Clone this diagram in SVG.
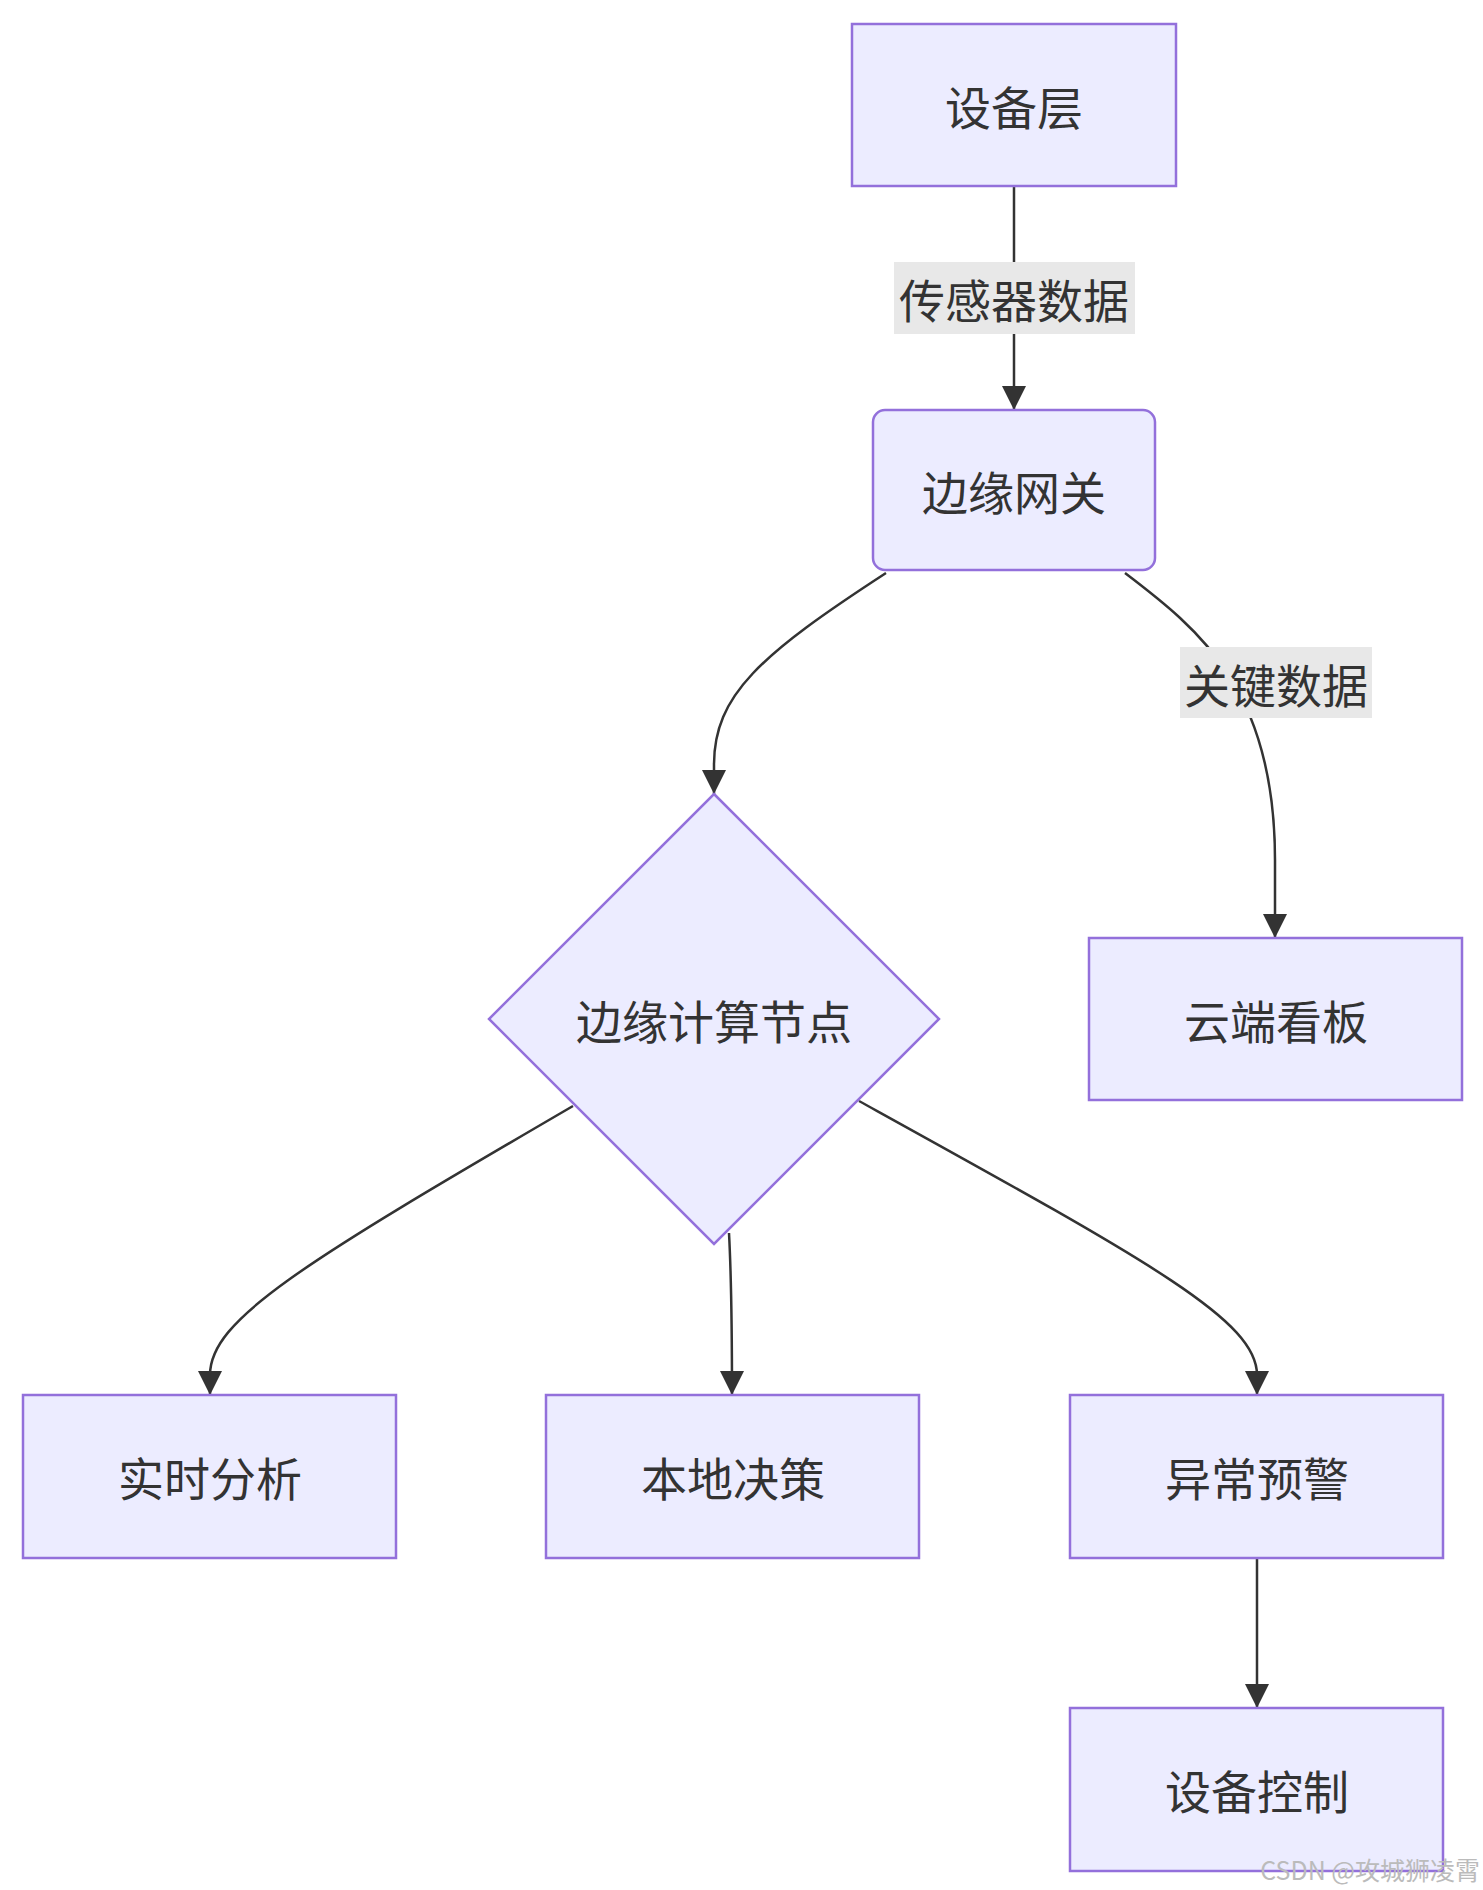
<svg xmlns="http://www.w3.org/2000/svg" width="1483" height="1890" viewBox="0 0 1483 1890">
<style>
.n{fill:#ECECFF;stroke:#9370DB;stroke-width:2.5}
.t{font-family:"Noto Sans CJK SC",sans-serif;font-size:46px;fill:#333;text-anchor:middle;dominant-baseline:central}
.e{fill:none;stroke:#333;stroke-width:2.5}
.lb{fill:#e8e8e8}
</style>
<defs><marker id="a" viewBox="0 0 10 10" refX="9" refY="5" markerWidth="8" markerHeight="8" markerUnits="userSpaceOnUse" orient="auto"><path d="M0,0L10,5L0,10z" fill="#333" transform="scale(1)"/></marker>
<marker id="m" viewBox="0 0 10 10" refX="10" refY="5" markerWidth="24" markerHeight="24" markerUnits="userSpaceOnUse" orient="auto"><path d="M0,0L10,5L0,10z" fill="#333"/></marker></defs>
<rect width="1483" height="1890" fill="#fff"/>
<g id="edges">
<path class="e" d="M1014,186L1014,410" marker-end="url(#m)"/>
<path class="e" d="M886,573C760,655 714,695 714,765L714,794" marker-end="url(#m)"/>
<path class="e" d="M1125,573C1200,630 1275,690 1275,860L1275,938" marker-end="url(#m)"/>
<path class="e" d="M573,1106C300,1265 210,1320 210,1375L210,1395" marker-end="url(#m)"/>
<path class="e" d="M729,1233C732,1290 732,1330 732,1395" marker-end="url(#m)"/>
<path class="e" d="M859,1101C1150,1262 1257,1320 1257,1375L1257,1395" marker-end="url(#m)"/>
<path class="e" d="M1257,1558L1257,1708" marker-end="url(#m)"/>
<rect class="lb" x="894" y="262" width="241" height="72"/>
<text class="t" x="1014" y="298">传感器数据</text>
<rect class="lb" x="1180" y="647" width="192" height="71"/>
<text class="t" x="1276" y="683">关键数据</text>
</g>
<g id="n1"><rect class="n" x="852" y="24" width="324" height="162"/><text class="t" x="1014" y="105">设备层</text></g>
<g id="n2"><rect class="n" x="873" y="410" width="282" height="160" rx="12"/><text class="t" x="1014" y="490">边缘网关</text></g>
<g id="n3"><path class="n" d="M714,794L939,1019L714,1244L489,1019Z"/><text class="t" x="714" y="1019">边缘计算节点</text></g>
<g id="n4"><rect class="n" x="1089" y="938" width="373" height="162"/><text class="t" x="1276" y="1019">云端看板</text></g>
<g id="n5"><rect class="n" x="23" y="1395" width="373" height="163"/><text class="t" x="210" y="1476">实时分析</text></g>
<g id="n6"><rect class="n" x="546" y="1395" width="373" height="163"/><text class="t" x="733" y="1476">本地决策</text></g>
<g id="n7"><rect class="n" x="1070" y="1395" width="373" height="163"/><text class="t" x="1257" y="1476">异常预警</text></g>
<g id="n8"><rect class="n" x="1070" y="1708" width="373" height="163"/><text class="t" x="1257" y="1789">设备控制</text></g>
<text x="1480" y="1880" font-family="Noto Sans CJK SC,sans-serif" font-size="25" fill="#bbb" text-anchor="end">CSDN @攻城狮凌霄</text>
</svg>
